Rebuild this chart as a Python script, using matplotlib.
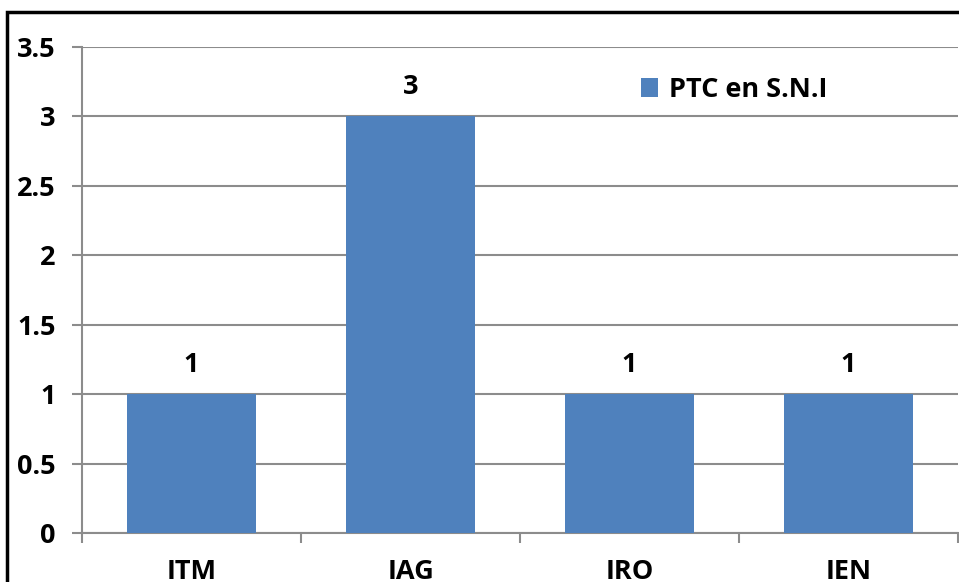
import matplotlib
matplotlib.use('Agg')
import matplotlib.pyplot as plt
from matplotlib.patches import Rectangle

categories = ['ITM', 'IAG', 'IRO', 'IEN']
values = [1, 3, 1, 1]
series_name = 'PTC en S.N.I'
yticks = [0, 0.5, 1, 1.5, 2, 2.5, 3, 3.5]
ytick_labels = ['0', '0.5', '1', '1.5', '2', '2.5', '3', '3.5']

plt.rcParams['font.family'] = ['Open Sans', 'DejaVu Sans']
plt.rcParams['font.weight'] = 'bold'

W, H = 959, 582
fig = plt.figure(figsize=(W / 100, H / 100), dpi=100)
ax = fig.add_axes([82 / W, (H - 533) / H, (958 - 82) / W, (533 - 47) / H])

bar_color = '#4F81BD'
grid_color = '#8C8C8C'
fs = 19.5
x = list(range(len(categories)))
bars = ax.bar(x, values, width=0.585, color=bar_color, zorder=3, label=series_name)

ax.set_xlim(-0.5, len(categories) - 0.5)
ax.set_ylim(0, 3.5)
ax.set_yticks(yticks)
ax.set_yticklabels(ytick_labels, fontsize=fs, fontweight='bold')
ax.set_xticks(x)
ax.set_xticklabels(categories, fontsize=fs, fontweight='bold')
ax.set_xticks([i + 0.5 for i in range(-1, len(categories))], minor=True)
ax.tick_params(axis='x', which='major', length=0, pad=18.5)
ax.tick_params(axis='x', which='minor', length=7, color=grid_color, width=1.5)
ax.tick_params(axis='y', length=7, color=grid_color, width=1.5, pad=12)
ax.yaxis.grid(True, color=grid_color, linewidth=1.5, zorder=0)

for s in ['top', 'right']:
    ax.spines[s].set_visible(False)
for s in ['left', 'bottom']:
    ax.spines[s].set_color(grid_color)
    ax.spines[s].set_linewidth(1.5)

for xi, v in zip(x, values):
    ax.annotate(str(v), (xi, v), xytext=(0, 21), textcoords='offset points',
                ha='center', va='center', fontsize=fs, fontweight='bold')

ax.legend(loc='center left', bbox_to_anchor=(0.638, 0.9115), frameon=False,
          prop={'weight': 'bold', 'size': fs}, borderpad=0, borderaxespad=0,
          handlelength=0.65, handleheight=0.65, handletextpad=0.4)

fig.patches.append(Rectangle((7 / W, -0.1), 2, (H - 12) / H + 0.1,
                             transform=fig.transFigure, fill=False,
                             edgecolor='black', linewidth=2.5))

fig.savefig('out.png', dpi=100)
